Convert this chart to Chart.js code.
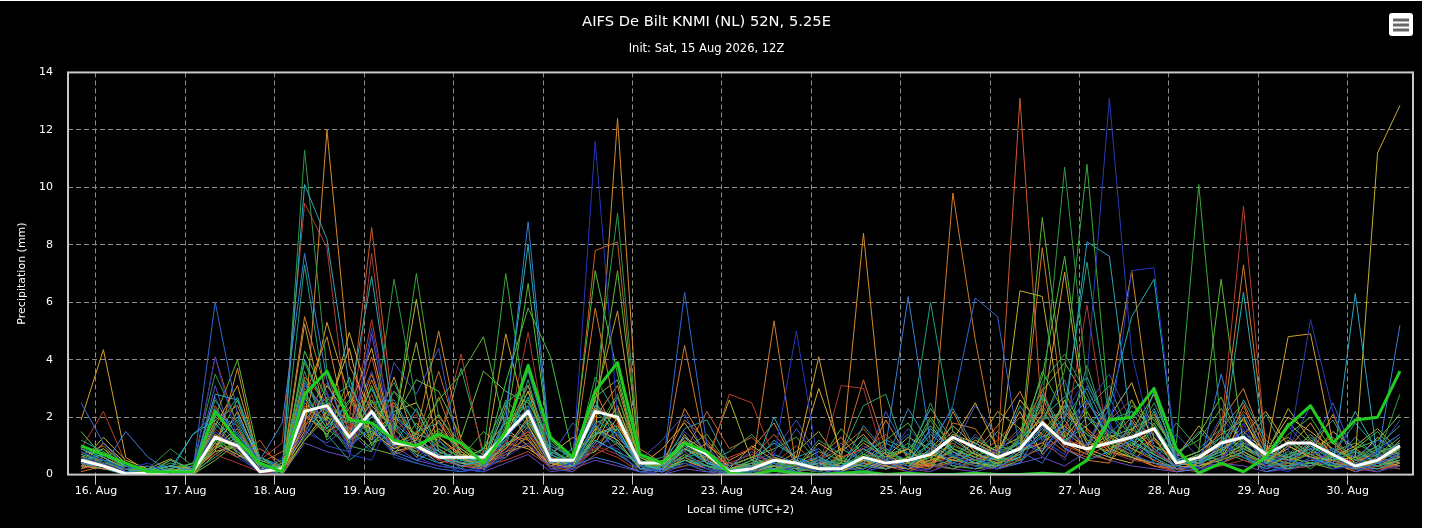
<!DOCTYPE html>
<html>
<head>
<meta charset="utf-8">
<script src="https://cdn.jsdelivr.net/npm/chart.js@4.4.1/dist/chart.umd.min.js"></script>
<style>
  html, body { margin: 0; padding: 0; background: #fff; }
  #wrap { position: absolute; left: 0; top: 1px; width: 1422px; height: 527px; background: #000; }
</style>
</head>
<body>
<div id="wrap"><canvas id="myChart"></canvas></div>
<script>
// time axis: 6-hourly steps, hours relative to 16 Aug 00:00 local
const firstHour = -4;
const stepHours = 6;
const dayTicks = [0, 24, 48, 72, 96, 120, 144, 168, 192, 216, 240, 264, 288, 312, 336];
const dayLabels = ['16. Aug', '17. Aug', '18. Aug', '19. Aug', '20. Aug', '21. Aug', '22. Aug', '23. Aug',
  '24. Aug', '25. Aug', '26. Aug', '27. Aug', '28. Aug', '29. Aug', '30. Aug'];
const yTicks = [0, 2, 4, 6, 8, 10, 12, 14];

// thick lines
const meanLine = [
  0.5, 0.3, 0.03, 0.05, 0.1, 0.1, 1.3, 1.0, 0.1, 0.2,
  2.2, 2.4, 1.3, 2.2, 1.1, 1.0, 0.6, 0.6, 0.6, 1.4,
  2.2, 0.5, 0.5, 2.2, 2.0, 0.4, 0.4, 1.1, 0.7, 0.1,
  0.2, 0.5, 0.4, 0.2, 0.2, 0.6, 0.4, 0.5, 0.7, 1.3,
  0.95, 0.6, 0.9, 1.8, 1.1, 0.9, 1.1, 1.3, 1.6, 0.4,
  0.6, 1.1, 1.3, 0.7, 1.1, 1.1, 0.7, 0.3, 0.5, 1.0
];
const controlLine = [
  1.0, 0.7, 0.4, 0.1, 0.1, 0.1, 2.2, 1.2, 0.4, 0.1,
  2.8, 3.6, 1.9, 1.8, 1.2, 1.0, 1.4, 1.1, 0.4, 1.5,
  3.8, 1.3, 0.6, 2.9, 3.9, 0.7, 0.4, 1.1, 0.8, 0.05,
  0.0, 0.15, 0.05, 0.0, 0.05, 0.1, 0.0, 0.05, 0.0, 0.0,
  0.05, 0.0, 0.0, 0.05, 0.0, 0.5, 1.9, 2.0, 3.0, 0.9,
  0.05, 0.4, 0.1, 0.6, 1.7, 2.4, 1.1, 1.9, 2.0, 3.6
];

// ensemble members
const member01 = [0.6, 0.4, 0.1, 0.0, 0.1, 0.0, 4.1, 1.2, 0.2, 0.0, 2.6, 1.8, 0.9, 5.1, 1.4, 0.6, 0.3, 0.2, 0.1, 0.8, 1.6, 0.3, 0.2, 1.1, 0.9, 0.1, 0.0, 0.4, 0.2, 0.0, 0.1, 0.0, 0.3, 0.1, 0.0, 0.2, 0.6, 0.3, 0.1, 0.4, 0.2, 0.8, 1.5, 0.6, 2.1, 3.4, 13.1, 4.2, 0.9, 0.3, 0.1, 0.6, 1.2, 0.3, 0.8, 5.4, 2.2, 0.4, 0.1, 0.3];
const member02 = [2.5, 1.1, 0.3, 0.1, 0.0, 0.1, 6.0, 2.1, 0.3, 0.1, 3.1, 2.2, 1.0, 1.6, 0.7, 0.4, 0.2, 0.1, 0.3, 1.2, 2.4, 0.6, 0.2, 1.8, 0.7, 0.2, 0.1, 6.35, 1.0, 0.0, 0.2, 0.4, 0.1, 0.0, 0.3, 0.1, 0.5, 0.2, 0.9, 2.4, 6.15, 5.5, 0.8, 0.4, 1.6, 1.0, 2.3, 0.7, 0.4, 0.2, 0.3, 1.1, 0.6, 0.2, 0.5, 0.3, 0.9, 0.1, 0.4, 0.7];
const member03 = [0.8, 0.5, 0.2, 0.4, 0.0, 0.1, 1.5, 0.9, 0.1, 0.6, 1.4, 2.9, 0.7, 0.5, 2.2, 0.9, 0.4, 0.1, 0.2, 0.6, 1.1, 0.2, 0.4, 11.6, 2.0, 0.3, 0.1, 0.8, 0.2, 0.1, 0.0, 0.6, 5.0, 0.3, 0.1, 0.0, 0.4, 0.1, 0.2, 0.7, 0.3, 0.2, 0.9, 1.3, 0.5, 2.6, 1.4, 7.1, 7.2, 0.6, 0.2, 0.4, 1.8, 0.3, 0.1, 0.6, 0.2, 0.3, 0.8, 1.4];
const member04 = [0.4, 0.3, 1.5, 0.6, 0.1, 0.2, 2.3, 1.4, 0.5, 1.8, 7.7, 3.3, 1.2, 2.1, 0.8, 0.5, 0.9, 0.2, 0.1, 1.9, 8.8, 0.9, 0.3, 0.6, 0.4, 0.1, 0.2, 1.3, 0.5, 0.1, 0.3, 0.2, 0.1, 0.5, 0.2, 0.4, 1.0, 6.2, 1.1, 0.3, 0.6, 0.2, 0.4, 1.7, 0.9, 0.5, 0.8, 1.2, 0.6, 0.1, 0.2, 3.5, 0.7, 0.1, 0.3, 0.5, 0.4, 0.2, 0.6, 5.2];
const member05 = [0.9, 0.6, 0.1, 0.2, 0.3, 0.1, 2.8, 2.6, 0.4, 0.2, 10.1, 8.2, 3.1, 1.7, 1.0, 2.3, 0.6, 0.3, 0.5, 1.3, 2.1, 0.4, 0.6, 2.4, 1.6, 0.3, 0.2, 0.9, 0.4, 0.2, 0.1, 2.0, 0.4, 0.2, 0.3, 0.6, 0.2, 0.5, 1.4, 0.8, 0.4, 0.6, 1.1, 0.8, 1.9, 8.1, 7.6, 1.5, 0.7, 0.3, 0.5, 0.8, 1.4, 0.4, 0.6, 0.9, 0.3, 6.3, 0.5, 0.8];
const member06 = [0.5, 0.7, 0.3, 0.1, 0.2, 1.4, 1.9, 1.1, 0.2, 0.1, 2.8, 1.6, 2.5, 6.9, 1.8, 1.1, 0.7, 0.4, 0.6, 2.2, 8.0, 0.7, 0.3, 1.2, 0.8, 0.4, 0.1, 0.5, 0.3, 0.0, 0.2, 0.5, 0.2, 0.4, 0.1, 1.3, 0.6, 0.3, 0.9, 0.4, 0.8, 0.3, 0.6, 2.8, 1.2, 1.7, 2.4, 5.5, 6.8, 0.5, 0.4, 0.7, 6.35, 0.6, 0.2, 0.4, 0.6, 0.3, 0.2, 0.5];
const member07 = [1.2, 0.8, 0.2, 0.0, 0.5, 0.2, 1.6, 2.7, 0.6, 0.3, 7.3, 2.4, 1.5, 2.0, 3.2, 1.6, 0.8, 0.5, 0.3, 1.0, 3.3, 0.5, 0.4, 1.5, 1.1, 0.2, 0.3, 0.6, 0.8, 0.1, 0.4, 0.3, 0.1, 0.6, 0.2, 0.8, 1.2, 0.9, 6.0, 1.5, 0.9, 0.5, 0.7, 1.4, 2.3, 7.4, 1.9, 2.2, 1.0, 0.4, 0.6, 1.3, 0.9, 0.5, 1.1, 0.7, 0.2, 0.4, 0.3, 0.6];
const member08 = [0.7, 0.5, 0.1, 0.2, 0.9, 0.3, 3.5, 1.8, 0.3, 0.1, 11.3, 3.6, 2.2, 1.3, 6.8, 2.5, 1.0, 0.6, 0.4, 1.7, 2.6, 0.8, 0.5, 3.0, 9.1, 0.5, 0.2, 1.0, 0.6, 0.2, 0.1, 0.4, 0.2, 0.1, 0.5, 0.4, 0.9, 0.3, 1.2, 0.6, 0.3, 0.7, 1.2, 2.5, 10.7, 3.2, 1.6, 1.1, 2.5, 0.8, 0.3, 0.9, 0.6, 0.2, 0.7, 1.4, 0.5, 0.8, 0.6, 2.8];
const member09 = [0.3, 0.9, 0.4, 0.1, 0.2, 0.0, 1.2, 0.8, 0.1, 0.4, 3.9, 2.1, 1.8, 2.6, 1.5, 7.0, 2.0, 1.1, 0.7, 7.0, 1.8, 0.6, 0.2, 1.4, 2.2, 0.3, 0.1, 0.7, 0.3, 0.1, 0.3, 0.1, 0.4, 0.2, 0.6, 0.3, 0.5, 1.1, 0.4, 0.2, 0.5, 0.3, 0.9, 1.8, 3.6, 10.8, 2.1, 1.4, 0.8, 1.1, 10.1, 1.6, 0.7, 0.4, 0.3, 0.8, 1.2, 0.5, 0.9, 0.4];
const member10 = [0.6, 0.4, 0.3, 0.2, 0.1, 0.4, 2.0, 4.0, 0.5, 0.2, 2.7, 1.3, 3.4, 1.0, 2.1, 1.4, 2.6, 3.5, 4.8, 1.6, 6.65, 0.9, 0.4, 2.1, 7.1, 0.6, 0.3, 0.8, 0.2, 0.0, 0.2, 0.5, 0.1, 0.3, 0.2, 0.7, 0.4, 0.6, 2.0, 0.9, 0.6, 1.0, 0.8, 8.95, 2.9, 1.2, 0.7, 2.6, 1.3, 0.5, 0.8, 6.8, 1.0, 0.6, 0.4, 0.3, 0.7, 0.2, 0.5, 0.9];
const member11 = [1.5, 0.6, 0.2, 0.1, 0.3, 0.1, 0.9, 1.3, 0.2, 0.0, 4.3, 2.6, 1.1, 3.1, 1.2, 0.8, 1.5, 0.9, 0.3, 3.2, 5.8, 4.1, 0.7, 7.1, 3.5, 0.4, 0.2, 0.5, 0.3, 0.1, 0.5, 0.2, 0.3, 0.1, 0.4, 0.2, 0.8, 0.4, 0.6, 0.3, 0.2, 0.4, 1.3, 3.4, 7.6, 2.0, 1.1, 0.6, 1.8, 0.4, 0.7, 0.5, 1.1, 0.8, 0.6, 0.4, 0.3, 0.9, 1.5, 0.6];
const member12 = [0.4, 1.3, 0.5, 0.2, 0.55, 0.1, 1.1, 0.7, 0.3, 0.1, 2.3, 1.9, 4.95, 2.4, 1.6, 6.1, 1.3, 0.7, 0.5, 1.4, 2.9, 0.5, 0.3, 1.6, 1.2, 0.2, 0.1, 1.4, 0.4, 0.2, 0.1, 0.3, 0.2, 0.4, 0.1, 0.5, 0.3, 0.2, 0.7, 0.5, 0.4, 0.3, 6.4, 6.2, 1.3, 2.2, 0.9, 0.6, 0.4, 0.2, 0.3, 0.5, 0.8, 0.4, 1.2, 0.6, 0.5, 0.6, 11.2, 12.85];
const member13 = [1.9, 4.35, 0.6, 0.1, 0.3, 0.2, 1.7, 3.1, 0.4, 0.1, 1.8, 5.3, 2.7, 1.5, 0.9, 1.2, 2.1, 0.8, 0.3, 4.9, 1.7, 0.3, 0.6, 2.3, 1.9, 0.2, 0.3, 0.6, 1.1, 0.2, 0.4, 0.2, 0.6, 4.1, 0.5, 0.3, 0.6, 0.9, 0.2, 1.3, 0.7, 0.5, 1.0, 2.1, 7.05, 1.5, 0.8, 1.6, 0.9, 0.3, 0.5, 0.9, 1.3, 0.7, 4.8, 4.9, 1.1, 0.4, 0.3, 0.6];
const member14 = [0.3, 0.2, 0.1, 0.0, 0.2, 0.1, 0.8, 3.7, 0.2, 0.3, 1.5, 12.0, 3.8, 2.2, 1.1, 1.4, 5.0, 1.2, 0.4, 0.9, 2.0, 0.4, 0.2, 1.3, 12.4, 0.7, 0.3, 1.2, 0.5, 0.1, 0.2, 0.6, 0.3, 0.2, 0.4, 8.4, 0.7, 0.3, 0.5, 0.6, 0.3, 0.2, 0.8, 1.1, 1.7, 0.9, 2.6, 7.1, 1.2, 0.4, 0.3, 0.6, 0.9, 0.5, 0.2, 1.1, 0.7, 0.2, 0.4, 0.9];
const member15 = [0.5, 0.3, 0.2, 0.1, 0.0, 0.2, 1.3, 0.9, 0.3, 0.2, 5.5, 2.8, 1.4, 3.5, 1.2, 0.9, 2.7, 0.6, 0.2, 1.5, 3.1, 0.6, 0.4, 5.8, 1.8, 0.3, 0.2, 4.5, 0.6, 0.2, 0.1, 5.35, 0.2, 0.4, 0.3, 0.5, 0.2, 0.4, 0.3, 9.8, 4.7, 0.6, 0.5, 7.9, 1.9, 0.8, 1.3, 0.9, 0.5, 0.2, 0.4, 1.2, 7.3, 1.0, 0.5, 0.7, 0.4, 0.3, 0.6, 0.4];
const member16 = [0.2, 0.4, 0.1, 0.0, 0.1, 0.0, 1.0, 0.6, 1.2, 0.1, 2.4, 1.5, 1.9, 8.6, 2.0, 1.1, 0.7, 0.3, 0.2, 0.8, 1.3, 0.2, 0.5, 7.8, 8.1, 0.4, 0.1, 0.6, 0.2, 0.1, 0.3, 0.2, 0.1, 0.3, 0.2, 0.4, 0.3, 0.1, 0.4, 0.6, 0.5, 0.8, 13.1, 1.8, 0.9, 0.6, 1.1, 0.7, 0.3, 0.2, 0.1, 0.4, 0.7, 0.3, 0.6, 0.4, 1.2, 0.3, 0.1, 0.5];
const member17 = [0.9, 2.2, 0.4, 0.1, 0.0, 0.1, 4.1, 1.6, 0.5, 1.1, 9.45, 7.9, 1.4, 5.4, 1.3, 0.8, 1.1, 4.2, 0.6, 0.9, 1.5, 0.3, 0.2, 0.9, 0.6, 0.1, 0.2, 0.7, 0.3, 2.8, 2.5, 0.6, 0.2, 0.1, 0.3, 0.5, 0.2, 0.4, 0.3, 0.2, 0.4, 0.6, 1.2, 3.0, 1.0, 0.7, 0.5, 1.4, 0.8, 0.3, 0.6, 1.5, 9.35, 0.9, 0.3, 0.5, 0.7, 0.4, 0.2, 0.3];
const member18 = [0.3, 0.6, 0.2, 0.0, 0.1, 0.2, 0.7, 0.4, 0.1, 0.0, 1.9, 2.3, 1.0, 7.7, 1.5, 2.1, 0.5, 0.3, 0.4, 1.1, 4.95, 0.4, 0.2, 1.0, 0.7, 0.2, 0.1, 0.3, 0.6, 0.4, 0.2, 0.1, 0.3, 0.2, 3.1, 3.0, 0.4, 0.2, 0.1, 0.5, 0.3, 0.2, 0.6, 0.9, 1.3, 5.9, 0.8, 0.5, 0.4, 0.1, 0.2, 0.3, 0.5, 0.2, 0.4, 0.3, 0.6, 0.1, 0.3, 0.2];
const member19 = [1.0, 0.7, 0.3, 0.1, 0.2, 0.0, 1.4, 0.9, 0.2, 0.1, 5.25, 1.7, 2.9, 1.2, 3.4, 1.0, 0.6, 0.4, 0.3, 2.4, 1.2, 0.3, 0.2, 2.6, 5.7, 0.4, 0.2, 0.5, 0.2, 0.0, 0.2, 0.3, 0.1, 0.5, 0.2, 0.6, 0.3, 0.2, 0.4, 0.9, 0.6, 0.4, 0.7, 1.5, 2.4, 1.1, 0.8, 0.6, 0.3, 0.2, 0.4, 0.7, 1.0, 0.5, 0.9, 1.8, 0.6, 0.3, 0.2, 0.4];
const member20 = [0.7, 0.5, 0.2, 0.3, 0.1, 1.4, 2.1, 1.7, 0.3, 0.2, 3.2, 1.9, 1.3, 2.5, 2.6, 1.2, 0.8, 0.5, 0.7, 1.5, 3.6, 1.0, 0.6, 1.9, 1.4, 0.3, 0.2, 1.0, 0.4, 0.1, 0.3, 0.7, 0.4, 0.6, 0.3, 0.9, 0.5, 2.3, 1.0, 0.6, 1.1, 0.6, 0.9, 1.6, 1.1, 2.0, 1.5, 1.2, 2.3, 0.6, 0.4, 1.0, 2.1, 0.7, 0.5, 0.9, 0.4, 1.3, 0.6, 1.1];
const member21 = [0.8, 0.3, 0.1, 0.2, 0.0, 0.3, 1.1, 0.6, 0.1, 0.2, 1.7, 1.0, 0.8, 2.3, 0.6, 0.4, 1.2, 0.3, 0.2, 0.7, 1.3, 0.2, 0.1, 0.9, 1.5, 0.2, 0.0, 0.4, 0.1, 0.2, 0.0, 0.3, 0.6, 0.2, 0.1, 0.3, 0.8, 1.4, 0.3, 0.2, 0.5, 0.9, 0.4, 1.2, 0.7, 3.1, 1.8, 0.5, 0.9, 0.2, 0.3, 0.5, 1.6, 0.2, 0.4, 0.7, 0.9, 0.2, 0.3, 0.8];
const member22 = [0.4, 0.2, 0.0, 0.1, 0.3, 0.1, 0.6, 1.2, 0.4, 0.1, 2.2, 1.4, 0.5, 1.1, 1.8, 0.7, 0.4, 0.2, 0.9, 1.0, 1.9, 0.5, 0.2, 1.2, 0.8, 0.1, 0.2, 0.3, 0.5, 0.0, 0.2, 0.1, 0.3, 0.5, 0.4, 0.2, 0.6, 0.3, 1.1, 0.7, 0.3, 0.5, 0.6, 1.9, 2.2, 1.4, 0.6, 1.8, 0.4, 0.3, 0.6, 0.4, 0.8, 0.3, 0.2, 0.6, 0.3, 0.5, 0.4, 0.2];
const member23 = [0.2, 0.5, 0.3, 0.0, 0.2, 0.4, 1.8, 0.9, 0.2, 0.3, 2.9, 1.6, 1.0, 0.8, 2.4, 1.3, 0.6, 0.8, 0.3, 1.9, 2.4, 0.7, 0.4, 1.5, 2.8, 0.2, 0.1, 0.6, 0.2, 0.1, 0.1, 0.2, 0.1, 0.4, 0.5, 0.3, 0.2, 0.5, 0.8, 0.4, 0.2, 0.3, 1.4, 2.3, 1.0, 3.8, 1.3, 0.9, 0.6, 0.2, 0.4, 0.8, 0.5, 0.3, 0.6, 0.2, 0.8, 0.6, 1.0, 0.7];
const member24 = [0.6, 0.3, 0.1, 0.2, 0.1, 0.0, 0.5, 1.1, 0.3, 0.0, 1.2, 2.0, 1.6, 0.9, 0.7, 1.8, 0.9, 0.4, 0.2, 0.6, 1.4, 0.3, 0.5, 0.8, 1.6, 0.3, 0.2, 0.4, 0.1, 0.2, 0.3, 0.4, 0.2, 0.1, 0.3, 0.6, 0.4, 0.2, 0.5, 0.8, 0.4, 0.2, 0.5, 1.0, 2.6, 0.8, 0.5, 1.1, 0.7, 0.3, 0.2, 0.6, 1.3, 0.5, 0.3, 0.4, 0.2, 0.6, 0.3, 0.5];
const member25 = [0.3, 0.6, 0.2, 0.1, 0.0, 0.2, 0.9, 2.2, 0.4, 0.1, 1.4, 3.1, 2.0, 1.6, 0.8, 1.0, 0.4, 0.6, 0.2, 1.1, 0.9, 0.4, 0.2, 1.1, 2.4, 0.3, 0.1, 0.9, 0.6, 0.1, 0.4, 0.2, 0.3, 0.2, 0.1, 0.4, 0.2, 0.6, 0.3, 0.5, 1.2, 0.8, 2.2, 0.7, 1.5, 0.9, 0.6, 0.4, 1.3, 0.2, 0.3, 0.5, 2.0, 0.4, 1.0, 0.6, 0.3, 0.2, 0.5, 0.3];
const member26 = [0.1, 0.3, 0.2, 0.0, 0.1, 0.1, 1.5, 0.8, 0.3, 0.2, 3.4, 2.5, 1.2, 3.3, 1.4, 0.6, 1.9, 0.5, 0.4, 0.8, 1.0, 0.2, 0.3, 2.9, 1.3, 0.5, 0.2, 0.7, 0.3, 0.1, 0.2, 0.4, 0.1, 0.3, 0.2, 0.2, 0.5, 0.3, 0.2, 2.2, 0.7, 0.4, 0.6, 2.7, 0.9, 0.5, 0.4, 1.9, 0.7, 0.3, 0.2, 0.6, 2.4, 0.5, 0.3, 0.8, 0.4, 0.1, 0.3, 0.5];
const member27 = [0.5, 0.7, 0.2, 0.1, 0.0, 0.1, 2.4, 1.0, 0.2, 0.4, 1.6, 3.6, 0.9, 2.8, 0.7, 1.0, 0.5, 0.9, 0.3, 0.5, 0.8, 0.3, 0.1, 0.7, 1.1, 0.2, 0.1, 0.5, 0.2, 0.6, 0.9, 0.3, 0.2, 0.1, 0.6, 0.9, 0.3, 0.2, 0.3, 0.4, 0.2, 0.3, 0.9, 1.1, 0.6, 1.6, 0.8, 0.6, 0.3, 0.1, 0.4, 0.3, 1.2, 0.6, 0.2, 0.3, 0.5, 0.2, 0.4, 0.3];
const member28 = [0.3, 0.2, 0.1, 0.0, 0.1, 0.0, 3.1, 0.7, 0.1, 0.0, 1.1, 0.8, 0.6, 4.9, 1.0, 0.5, 0.3, 0.2, 0.1, 0.4, 0.7, 0.1, 0.2, 0.5, 0.3, 0.1, 0.0, 0.2, 0.1, 0.0, 0.1, 0.2, 0.1, 0.2, 0.0, 0.1, 0.3, 0.2, 0.4, 0.2, 0.1, 0.3, 0.4, 0.6, 0.3, 0.8, 0.5, 0.3, 0.2, 0.1, 0.2, 0.4, 0.3, 0.1, 0.2, 0.3, 0.6, 0.2, 0.1, 0.4];
const member29 = [0.6, 0.4, 0.1, 0.2, 0.1, 0.3, 1.3, 2.0, 0.6, 0.2, 4.0, 2.2, 1.4, 3.0, 1.2, 0.9, 0.6, 0.3, 0.5, 1.2, 2.7, 0.6, 0.3, 1.4, 1.6, 0.2, 0.1, 0.6, 0.3, 0.1, 0.1, 0.3, 0.5, 0.2, 0.4, 0.3, 0.2, 0.4, 1.6, 0.9, 0.5, 0.2, 0.8, 1.3, 1.7, 2.6, 1.2, 0.8, 2.9, 0.4, 0.3, 0.9, 0.6, 0.3, 0.4, 1.0, 0.5, 0.8, 0.4, 0.6];
const member30 = [0.9, 0.6, 0.2, 0.1, 0.4, 0.2, 2.6, 1.3, 0.2, 0.3, 3.6, 1.2, 2.0, 1.4, 2.9, 1.7, 1.0, 0.6, 0.4, 2.6, 1.7, 0.4, 0.3, 3.4, 2.0, 0.3, 0.2, 0.9, 0.4, 0.1, 0.2, 0.5, 0.3, 0.4, 0.3, 0.7, 0.6, 0.5, 2.5, 0.6, 0.3, 0.4, 0.7, 3.2, 4.2, 2.8, 1.0, 0.7, 1.6, 0.4, 0.5, 1.2, 0.7, 0.4, 0.8, 0.6, 0.5, 0.3, 0.7, 1.1];
const member31 = [0.4, 0.2, 0.1, 0.0, 0.2, 0.1, 1.8, 0.7, 0.2, 0.1, 2.0, 3.2, 1.5, 0.8, 3.9, 2.8, 4.4, 0.4, 0.6, 1.3, 2.3, 0.6, 1.8, 0.9, 1.4, 0.5, 1.2, 2.1, 0.6, 0.3, 0.8, 0.4, 1.6, 0.5, 1.1, 0.3, 2.2, 0.7, 1.5, 0.9, 2.4, 1.3, 0.6, 1.9, 3.3, 1.0, 2.7, 1.1, 0.5, 1.4, 0.6, 2.0, 1.1, 0.4, 1.7, 0.8, 2.5, 0.6, 1.2, 0.9];
const member32 = [0.3, 0.5, 0.2, 0.1, 0.0, 0.2, 1.2, 1.9, 0.5, 0.3, 1.3, 2.6, 3.1, 1.7, 0.9, 1.5, 1.8, 0.7, 0.3, 2.0, 1.6, 0.4, 0.9, 2.6, 1.1, 0.7, 0.3, 1.6, 1.9, 0.4, 0.3, 1.2, 0.6, 0.9, 0.2, 1.7, 0.8, 0.5, 1.1, 2.3, 0.9, 0.6, 2.4, 1.2, 2.0, 3.0, 1.4, 2.2, 1.7, 0.6, 1.5, 0.9, 2.6, 1.2, 0.5, 1.3, 0.7, 1.8, 0.9, 1.4];
const member33 = [0.5, 0.3, 0.1, 0.2, 0.1, 0.0, 0.9, 1.5, 0.3, 0.2, 2.5, 1.8, 0.8, 2.2, 1.7, 0.6, 1.1, 3.7, 0.8, 1.2, 2.9, 1.1, 0.5, 1.7, 1.0, 0.4, 0.6, 1.3, 0.4, 0.8, 1.4, 0.6, 0.3, 1.2, 0.7, 2.4, 2.8, 0.4, 1.9, 0.6, 1.3, 0.8, 1.1, 2.8, 1.5, 2.3, 3.1, 1.2, 0.7, 1.8, 0.9, 1.6, 0.8, 2.1, 0.6, 1.1, 1.9, 0.5, 1.0, 1.7];
const member34 = [0.8, 0.4, 0.2, 0.1, 0.3, 0.2, 1.4, 0.8, 0.2, 0.5, 3.3, 2.0, 1.2, 1.6, 2.9, 2.2, 1.0, 0.6, 1.5, 0.9, 1.8, 0.9, 0.4, 2.2, 1.5, 0.2, 0.5, 0.9, 1.4, 0.3, 0.6, 0.9, 1.3, 0.4, 1.6, 0.7, 1.2, 1.8, 0.6, 1.0, 0.7, 1.5, 0.9, 3.6, 2.1, 1.4, 1.0, 2.4, 1.9, 0.8, 1.2, 2.3, 1.0, 0.6, 1.4, 2.0, 0.8, 1.1, 0.7, 1.3];
const member35 = [0.2, 0.8, 0.3, 0.1, 0.2, 0.0, 0.7, 1.2, 0.4, 0.1, 1.7, 2.4, 1.9, 1.1, 1.4, 4.6, 0.8, 0.5, 0.9, 1.8, 2.2, 0.5, 0.3, 1.3, 2.7, 0.6, 0.2, 1.1, 0.5, 2.6, 0.5, 0.3, 0.8, 1.5, 0.4, 1.1, 0.6, 1.3, 0.9, 1.7, 1.0, 2.2, 1.6, 0.8, 2.6, 1.2, 0.7, 1.5, 2.8, 0.5, 0.8, 1.4, 1.9, 0.7, 2.3, 1.2, 0.6, 1.0, 1.6, 0.8];
const member36 = [0.6, 0.9, 0.2, 0.0, 0.1, 0.3, 1.0, 1.6, 0.3, 0.2, 2.1, 1.4, 2.3, 4.4, 1.1, 0.8, 1.6, 0.9, 0.4, 1.0, 1.5, 0.7, 1.3, 0.8, 2.0, 0.3, 0.9, 1.8, 0.7, 0.2, 1.0, 0.5, 0.4, 3.0, 0.8, 1.4, 0.5, 0.9, 0.3, 1.2, 2.5, 0.9, 1.3, 1.9, 1.1, 0.7, 2.0, 3.2, 1.0, 0.6, 1.7, 0.8, 1.4, 2.2, 1.0, 0.6, 1.5, 0.9, 0.4, 1.2];
const member37 = [0.4, 0.3, 0.1, 0.1, 0.0, 0.1, 1.9, 2.4, 0.6, 0.2, 2.7, 4.8, 1.3, 2.0, 2.5, 1.0, 1.3, 0.6, 0.2, 1.4, 1.2, 0.3, 0.6, 2.0, 3.1, 0.4, 0.2, 2.3, 1.0, 0.5, 0.9, 1.8, 0.3, 0.6, 1.3, 0.4, 1.9, 0.6, 0.8, 1.5, 0.8, 1.7, 2.9, 1.3, 2.2, 1.6, 0.9, 1.3, 2.1, 0.7, 0.4, 1.9, 3.0, 0.9, 1.3, 0.7, 2.1, 0.4, 0.8, 1.0];
const member38 = [0.7, 1.0, 0.3, 0.1, 0.1, 0.0, 2.2, 1.1, 0.4, 0.8, 1.9, 2.7, 1.6, 4.1, 1.0, 1.3, 0.7, 1.1, 0.5, 0.6, 1.7, 0.5, 0.3, 1.6, 2.3, 0.6, 0.3, 0.8, 2.2, 0.9, 1.3, 0.6, 0.2, 0.5, 0.9, 1.6, 0.7, 0.3, 0.6, 1.1, 0.6, 1.2, 2.0, 1.4, 0.8, 2.5, 1.7, 0.9, 1.2, 0.4, 0.7, 1.1, 2.2, 1.4, 0.6, 0.9, 1.3, 0.5, 0.7, 0.6];
const member39 = [0.2, 0.6, 0.2, 0.0, 0.0, 0.1, 1.6, 0.9, 0.2, 0.3, 2.6, 1.9, 0.9, 2.4, 1.6, 0.7, 1.9, 0.8, 0.3, 1.1, 1.4, 0.4, 0.2, 1.0, 1.8, 0.3, 0.1, 1.1, 0.7, 0.4, 0.7, 0.4, 1.0, 0.3, 0.6, 0.9, 1.4, 0.6, 0.4, 0.8, 0.5, 0.9, 1.6, 2.2, 1.2, 1.0, 1.9, 2.6, 0.8, 0.3, 0.5, 0.8, 1.7, 1.0, 0.4, 1.2, 0.9, 0.6, 0.3, 0.7];
const member40 = [0.5, 0.4, 0.2, 0.1, 0.1, 0.2, 2.7, 1.0, 0.3, 0.2, 1.5, 1.1, 1.7, 3.6, 1.3, 0.9, 0.6, 0.3, 0.2, 0.9, 1.9, 0.5, 0.3, 1.7, 1.2, 0.2, 0.4, 1.5, 0.8, 0.2, 0.4, 0.8, 1.9, 0.6, 0.3, 1.0, 0.6, 1.6, 0.8, 0.5, 1.4, 0.7, 1.1, 0.9, 1.6, 2.4, 3.5, 1.8, 1.4, 0.6, 0.3, 1.0, 1.5, 0.6, 0.9, 2.4, 1.2, 0.5, 0.8, 1.9];
const member41 = [0.6, 0.5, 0.1, 0.0, 0.2, 0.1, 1.0, 1.4, 0.3, 0.2, 2.3, 1.5, 1.9, 1.2, 2.0, 1.4, 1.2, 0.5, 0.9, 2.5, 3.1, 0.8, 0.4, 1.8, 2.1, 0.3, 0.2, 0.7, 0.3, 0.2, 0.5, 1.1, 0.6, 0.3, 0.9, 0.5, 1.1, 0.7, 2.3, 1.2, 0.7, 0.5, 1.2, 2.0, 2.7, 3.4, 1.6, 1.0, 2.2, 0.5, 0.8, 1.3, 1.0, 0.5, 0.7, 1.0, 0.6, 2.2, 0.8, 1.0];
const member42 = [0.9, 0.5, 0.2, 0.1, 0.5, 0.2, 1.1, 2.6, 0.4, 0.1, 2.0, 1.6, 2.6, 1.4, 1.9, 3.3, 2.9, 1.3, 3.6, 2.9, 2.5, 1.2, 0.5, 2.7, 3.3, 0.4, 0.3, 0.9, 0.5, 0.2, 0.3, 0.6, 0.4, 0.8, 0.5, 1.2, 0.7, 0.9, 1.7, 0.8, 0.4, 0.8, 1.5, 2.9, 3.9, 2.6, 1.3, 1.6, 2.0, 0.7, 1.4, 2.7, 0.9, 0.6, 1.8, 1.1, 0.6, 0.9, 1.2, 2.1];
const member43 = [0.3, 1.1, 0.4, 0.1, 0.3, 0.1, 0.8, 1.0, 0.3, 0.1, 1.2, 2.2, 4.4, 1.3, 2.2, 2.5, 1.0, 0.6, 0.3, 1.6, 1.0, 0.4, 0.7, 1.4, 1.7, 0.5, 0.2, 1.3, 0.8, 0.3, 0.6, 0.3, 0.2, 1.1, 0.6, 0.9, 0.4, 0.5, 0.7, 1.4, 1.1, 0.7, 2.6, 1.7, 1.2, 0.9, 1.4, 1.0, 1.6, 0.4, 0.6, 1.0, 1.5, 0.8, 2.0, 1.5, 0.9, 0.5, 1.3, 0.7];
const member44 = [0.4, 0.2, 0.2, 0.1, 0.0, 0.2, 1.3, 0.6, 0.9, 0.4, 3.0, 2.3, 1.1, 2.6, 0.9, 1.2, 3.6, 1.0, 0.4, 0.7, 1.1, 0.2, 0.4, 2.4, 1.9, 0.9, 0.4, 1.9, 1.2, 0.3, 0.6, 1.4, 0.5, 0.2, 0.7, 3.3, 0.9, 0.4, 0.5, 1.8, 1.6, 0.5, 0.9, 2.4, 1.3, 0.8, 1.2, 2.0, 0.9, 0.2, 0.4, 1.6, 2.5, 0.8, 0.6, 1.4, 0.7, 0.3, 0.9, 0.6];

const members = [member01, member02, member03, member04, member05, member06, member07, member08, member09, member10,
  member11, member12, member13, member14, member15, member16, member17, member18, member19, member20,
  member21, member22, member23, member24, member25, member26, member27, member28, member29, member30,
  member31, member32, member33, member34, member35, member36, member37, member38, member39, member40,
  member41, member42, member43, member44];

const memberColors = ['#2b3cb0', '#3068d0', '#2536c0', '#3a7ed8', '#2aa5c2', '#26b0b0', '#23a07a', '#2e9a46', '#38a83c', '#5cb834',
  '#48c040', '#c0b030', '#d4a02e', '#d68a2a', '#d07a2c', '#cc5a2c', '#b8402e', '#a83a3a', '#c89a38', '#2f8fbf',
  '#2b4db8', '#22a098', '#3fa050', '#7ab82c', '#d8b040', '#d0782e', '#c04a34', '#6a48c0', '#28b8c8', '#309a5c',
  '#3a5ac8', '#2c98a8', '#34a06a', '#4cae38', '#a4b230', '#d8a83a', '#d88430', '#c8602e', '#b04432', '#3f48b8',
  '#2fb6a0', '#66c044', '#e0b84a', '#cc6c36'];

const toPoints = arr => arr.map((v, i) => ({ x: firstHour + i * stepHours, y: v }));

const datasets = [
  { label: 'control', data: toPoints(controlLine), borderColor: '#1fcc1f', borderWidth: 3, order: 0 },
  { label: 'mean', data: toPoints(meanLine), borderColor: '#ffffff', borderWidth: 3, order: 1 }
];
members.forEach((m, k) => {
  datasets.push({ label: 'member ' + (k + 1), data: toPoints(m), borderColor: memberColors[k], borderWidth: 1, order: 2 });
});

// border round the plot area
const chartAreaBorder = {
  id: 'chartAreaBorder',
  afterDraw(chart) {
    const { ctx, chartArea: { left, top, width, height } } = chart;
    ctx.save();
    ctx.strokeStyle = '#c8c8c8';
    ctx.lineWidth = 2;
    ctx.strokeRect(left, top, width, height);
    ctx.restore();
  }
};

// menu button top right
const menuButton = {
  id: 'menuButton',
  afterDraw(chart) {
    const ctx = chart.ctx;
    const x = 1389, y = 12, w = 24, h = 23;
    ctx.save();
    ctx.fillStyle = '#ffffff';
    ctx.beginPath();
    ctx.roundRect(x, y, w, h, 3);
    ctx.fill();
    ctx.strokeStyle = '#666666';
    ctx.lineWidth = 3;
    [19, 24, 29].forEach(ly => {
      ctx.beginPath();
      ctx.moveTo(x + 4, ly);
      ctx.lineTo(x + w - 4, ly);
      ctx.stroke();
    });
    ctx.restore();
  }
};

const font = 'DejaVu Sans';

new Chart(document.getElementById('myChart'), {
  type: 'line',
  data: { datasets: datasets },
  options: {
    responsive: true,
    maintainAspectRatio: false,
    animation: false,
    devicePixelRatio: 1,
    layout: { padding: { left: 0, right: 9, top: 0, bottom: 11 } },
    elements: {
      point: { radius: 0, hoverRadius: 0 },
      line: { tension: 0, borderJoinStyle: 'round' }
    },
    plugins: {
      legend: { display: false },
      tooltip: { enabled: false },
      title: {
        display: true,
        text: 'AIFS De Bilt KNMI (NL) 52N, 5.25E',
        color: '#ffffff',
        font: { family: font, size: 14.7, weight: 'normal' },
        padding: { top: 12, bottom: 7 }
      },
      subtitle: {
        display: true,
        text: 'Init: Sat, 15 Aug 2026, 12Z',
        color: '#ffffff',
        font: { family: font, size: 11.5, weight: 'normal' },
        padding: { top: 4, bottom: 17 }
      }
    },
    scales: {
      x: {
        type: 'linear',
        min: -7.5,
        max: 353.5,
        afterBuildTicks: axis => { axis.ticks = dayTicks.map(v => ({ value: v })); },
        border: { display: false, dash: [5, 3] },
        grid: {
          color: '#8c8c8c',
          tickBorderDash: [],
          tickColor: '#c8c8c8',
          tickLength: 10,
          drawTicks: true
        },
        ticks: {
          color: '#ffffff',
          font: { family: font, size: 11 },
          padding: 0,
          maxRotation: 0,
          autoSkip: false,
          callback: (value) => dayLabels[dayTicks.indexOf(value)]
        },
        title: {
          display: true,
          text: 'Local time (UTC+2)',
          color: '#ffffff',
          font: { family: font, size: 11 },
          padding: { top: 6, bottom: 0 }
        }
      },
      y: {
        min: 0,
        max: 14,
        afterBuildTicks: axis => { axis.ticks = yTicks.map(v => ({ value: v })); },
        afterFit: scale => { scale.width = 68; },
        border: { display: false, dash: [5, 3] },
        grid: {
          color: '#8c8c8c',
          drawTicks: false
        },
        ticks: {
          color: '#ffffff',
          font: { family: font, size: 11 },
          padding: 15
        },
        title: {
          display: true,
          text: 'Precipitation (mm)',
          color: '#ffffff',
          font: { family: font, size: 11 },
          padding: { top: 16, bottom: 0 }
        }
      }
    }
  },
  plugins: [chartAreaBorder, menuButton]
});
</script>
</body>
</html>
